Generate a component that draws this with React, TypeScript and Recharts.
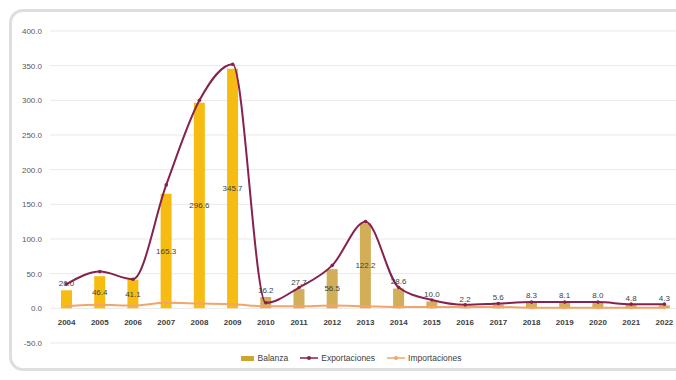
import {
  ComposedChart,
  Bar,
  Line,
  Cell,
  XAxis,
  YAxis,
  CartesianGrid,
  Legend,
  LabelList,
} from "recharts";

const YEARS = ["2004", "2005", "2006", "2007", "2008", "2009", "2010", "2011", "2012", "2013", "2014", "2015", "2016", "2017", "2018", "2019", "2020", "2021", "2022"];
const BALANZA = [26.0, 46.4, 41.1, 165.3, 296.6, 345.7, 16.2, 27.7, 56.5, 122.2, 28.6, 10.0, 2.2, 5.6, 8.3, 8.1, 8.0, 4.8, 4.3];
const EXPORTACIONES = [35, 53, 42, 178, 300, 352, 8, 30, 62, 125, 30, 12, 5, 7, 9, 9, 9, 6, 6];
const IMPORTACIONES = [3, 5, 4, 8, 7, 6, 3, 3, 4, 3, 2, 2, 2, 2, 1, 1, 1, 1, 1];
const Y_TICKS = [-50, 0, 50, 100, 150, 200, 250, 300, 350, 400];

const W = 700;
const H = 362;
const MARGIN = { top: 23, right: 27, bottom: 26, left: 0 };
const X_AXIS_H = 1;
const Y_MIN = -50;
const Y_MAX = 400;
const PLOT_H = H - MARGIN.top - MARGIN.bottom - X_AXIS_H;
// y of the zero line, the year labels sit just under it
const ZERO_Y = MARGIN.top + (PLOT_H * (Y_MAX - 0)) / (Y_MAX - Y_MIN);

const GOLD = "#f6bc12";
const TAN = "#d3ae58";
const EXP_COLOR = "#86224f";
const IMP_COLOR = "#f2a56a";
const FONT = "'Liberation Sans', Arial, sans-serif";

const data = YEARS.map((y, i) => ({
  year: y,
  Balanza: BALANZA[i],
  Exportaciones: EXPORTACIONES[i],
  Importaciones: IMPORTACIONES[i],
}));

const YearTick = (props: any) => {
  const { x, payload } = props;
  return (
    <text
      x={x}
      y={ZERO_Y + 14}
      textAnchor="middle"
      dominantBaseline="central"
      fontSize={8}
      fontWeight="bold"
      fill="#404040"
      fontFamily={FONT}
    >
      {payload.value}
    </text>
  );
};

const BarValue = (props: any) => {
  const { x, y, width, height, value } = props;
  const inside = value >= 40;
  const cy = inside ? y + height / 2 : y - 7;
  return (
    <text
      x={x + width / 2}
      y={cy}
      textAnchor="middle"
      dominantBaseline="central"
      fontSize={8}
      fill="#404040"
      fontFamily={FONT}
    >
      {value.toFixed(1)}
    </text>
  );
};

const renderLegend = () => (
  <div
    style={{
      display: "flex",
      justifyContent: "center",
      alignItems: "center",
      gap: 12,
      fontSize: 8.5,
      color: "#404040",
      fontFamily: FONT,
    }}
  >
    <span style={{ display: "flex", alignItems: "center", gap: 4 }}>
      <span style={{ width: 13, height: 5, background: "#cda62e", display: "inline-block" }} />
      Balanza
    </span>
    <span style={{ display: "flex", alignItems: "center", gap: 3 }}>
      <svg width={18} height={6}>
        <line x1={0} y1={3} x2={18} y2={3} stroke={EXP_COLOR} strokeWidth={1.5} />
        <circle cx={9} cy={3} r={2} fill={EXP_COLOR} />
      </svg>
      Exportaciones
    </span>
    <span style={{ display: "flex", alignItems: "center", gap: 3 }}>
      <svg width={18} height={6}>
        <line x1={0} y1={3} x2={18} y2={3} stroke={IMP_COLOR} strokeWidth={1.5} />
        <circle cx={9} cy={3} r={2} fill={IMP_COLOR} />
      </svg>
      Importaciones
    </span>
  </div>
);

export default function App() {
  // fixed box: the chart runs past the right edge like the source image, no scrollbars
  return (
    <div style={{ position: "fixed", left: 0, top: 0, width: 676, height: 380, overflow: "hidden", background: "#fff" }}>
      <div
        style={{
          position: "absolute",
          left: 9,
          top: 9,
          width: 720,
          height: 356,
          border: "3px solid #dedede",
          borderRadius: 14,
        }}
      />
      <div style={{ position: "absolute", left: 8, top: 8 }}>
        <ComposedChart width={W} height={H} data={data} margin={MARGIN} barSize={11}>
          <CartesianGrid stroke="#e9e9e9" vertical={false} />
          <XAxis
            dataKey="year"
            height={X_AXIS_H}
            axisLine={false}
            tickLine={false}
            interval={0}
            tick={<YearTick />}
          />
          <YAxis
            width={42}
            domain={[Y_MIN, Y_MAX]}
            ticks={Y_TICKS}
            axisLine={false}
            tickLine={false}
            tickMargin={2}
            tickFormatter={(v: number) => v.toFixed(1)}
            tick={{ fontSize: 8, fill: "#595959", fontFamily: FONT }}
          />
          <Legend
            verticalAlign="middle"
            content={renderLegend}
            wrapperStyle={{ top: 345, left: 0, width: 686 }}
          />
          <Bar dataKey="Balanza" isAnimationActive={false}>
            {data.map((d, i) => (
              <Cell key={d.year} fill={i < 6 ? GOLD : TAN} />
            ))}
            <LabelList dataKey="Balanza" content={<BarValue />} />
          </Bar>
          <Line
            type="monotone"
            dataKey="Importaciones"
            stroke={IMP_COLOR}
            strokeWidth={2}
            dot={{ r: 1.5, fill: IMP_COLOR, strokeWidth: 0 }}
            isAnimationActive={false}
          />
          <Line
            type="monotone"
            dataKey="Exportaciones"
            stroke={EXP_COLOR}
            strokeWidth={2}
            dot={{ r: 1.8, fill: EXP_COLOR, strokeWidth: 0 }}
            isAnimationActive={false}
          />
        </ComposedChart>
      </div>
    </div>
  );
}
